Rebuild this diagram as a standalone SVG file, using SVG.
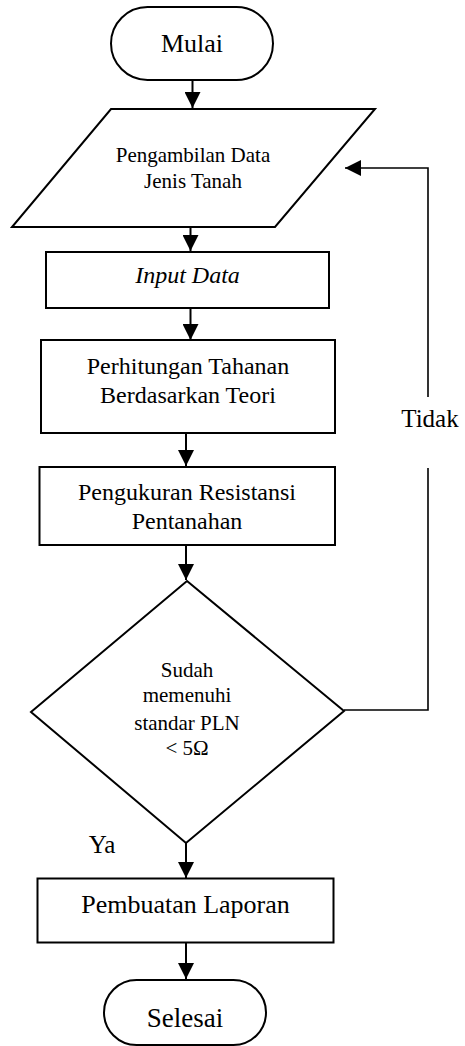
<svg xmlns="http://www.w3.org/2000/svg" width="465" height="1046" viewBox="0 0 465 1046">
<style>
.s{fill:#fff;stroke:#000;stroke-width:2}
.t{font-family:"Liberation Serif","Times New Roman",serif;fill:#000;text-anchor:middle}
.c{fill:none;stroke:#000;stroke-width:2}
.f{fill:none;stroke:#000;stroke-width:1.6}
</style>
<defs>
<marker id="ah" viewBox="0 0 16 16" refX="16" refY="8" markerWidth="16" markerHeight="16" markerUnits="userSpaceOnUse" orient="auto">
<path d="M0,0 L16,8 L0,16 Z" fill="#000"/>
</marker>
</defs>
<rect width="465" height="1046" fill="#fff"/>
<g id="connectors">
<line class="c" x1="192.5" y1="80" x2="192.5" y2="108" marker-end="url(#ah)"/>
<line class="c" x1="190.5" y1="222" x2="190.5" y2="251" marker-end="url(#ah)"/>
<line class="c" x1="190.5" y1="308" x2="190.5" y2="340" marker-end="url(#ah)"/>
<line class="c" x1="186" y1="433" x2="186" y2="466" marker-end="url(#ah)"/>
<line class="c" x1="186" y1="545" x2="186" y2="580" marker-end="url(#ah)"/>
<line class="c" x1="186" y1="843" x2="186" y2="878" marker-end="url(#ah)"/>
<line class="c" x1="186" y1="943" x2="186" y2="979" marker-end="url(#ah)"/>
<polyline class="f" points="344,710 428,710 428,468"/>
<polyline class="f" points="428,397 428,168 345,168" marker-end="url(#ah)"/>
<text class="t" x="430" y="427" font-size="25">Tidak</text>
<text class="t" x="102" y="853" font-size="25">Ya</text>
</g>
<g id="mulai">
<rect class="s" x="111" y="7" width="162" height="73" rx="36.5"/>
<text class="t" x="192" y="52" font-size="26">Mulai</text>
</g>
<g id="pengambilan">
<polygon class="s" points="111,109 375,109 275,227 12,227"/>
<text class="t" x="193" y="162" font-size="21">Pengambilan Data</text>
<text class="t" x="193" y="188" font-size="21">Jenis Tanah</text>
</g>
<g id="input">
<rect class="s" x="46" y="252" width="283" height="56"/>
<text class="t" x="187.5" y="283" font-size="24" font-style="italic">Input Data</text>
</g>
<g id="perhitungan">
<rect class="s" x="41" y="340" width="294" height="93"/>
<text class="t" x="188" y="374" font-size="24">Perhitungan Tahanan</text>
<text class="t" x="188" y="403" font-size="24">Berdasarkan Teori</text>
</g>
<g id="pengukuran">
<rect class="s" x="39.5" y="467" width="295.5" height="78"/>
<text class="t" x="187" y="500" font-size="24">Pengukuran Resistansi</text>
<text class="t" x="187" y="529" font-size="24">Pentanahan</text>
</g>
<g id="keputusan">
<polygon class="s" points="187,581 344,711 186,843 31,712"/>
<text class="t" x="187" y="677" font-size="21">Sudah</text>
<text class="t" x="187" y="702" font-size="21">memenuhi</text>
<text class="t" x="187" y="730" font-size="21">standar PLN</text>
<text class="t" x="187" y="755" font-size="21">&lt; 5Ω</text>
</g>
<g id="pembuatan">
<rect class="s" x="37.5" y="878.5" width="296" height="64"/>
<text class="t" x="185.5" y="913" font-size="26">Pembuatan Laporan</text>
</g>
<g id="selesai">
<rect class="s" x="104" y="980" width="162" height="65" rx="32.5"/>
<text class="t" x="185" y="1027" font-size="27">Selesai</text>
</g>
</svg>
